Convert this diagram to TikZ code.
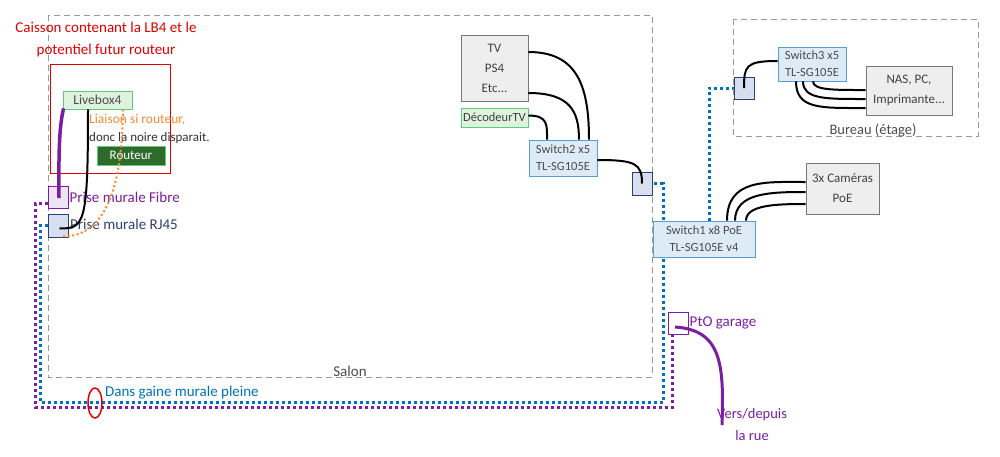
\documentclass[tikz,border=0pt]{standalone}
\usepackage{fontspec}
\setmainfont{Carlito}
\usetikzlibrary{calc,positioning,shapes.geometric,backgrounds}

\definecolor{lbfill}{HTML}{DDEBF7}
\definecolor{lbdraw}{HTML}{5B9BD5}
\definecolor{navy}{HTML}{2F3F6F}
\definecolor{wallfill}{HTML}{D6DEF0}
\definecolor{violet}{HTML}{7A1FA2}
\definecolor{bleu}{HTML}{0070C0}
\definecolor{vertclair}{HTML}{DDF3DD}
\definecolor{vertbord}{HTML}{5DCB7E}
\definecolor{vertfonce}{HTML}{2E6A2A}
\definecolor{grisfill}{HTML}{EEEEEE}
\definecolor{grisbord}{HTML}{777777}
\definecolor{orangeliaison}{HTML}{F58A32}
\definecolor{rouge}{HTML}{E00000}

\begin{document}
\begin{tikzpicture}[x=1pt,y=-1pt,
  box/.style={draw,line width=0.8pt,inner sep=0pt,align=center,font=\fontsize{12.5}{17}\selectfont},
  switchbox/.style={box,fill=lbfill,draw=lbdraw,text=black!70},
  devbox/.style={box,fill=grisfill,draw=grisbord,text=black!75,font=\fontsize{13}{20}\selectfont},
  wallbox/.style={draw=navy,fill=wallfill,line width=1pt,minimum width=20pt,minimum height=22pt,inner sep=0pt},
  zone/.style={draw=black!40,dashed,line width=1pt,dash pattern=on 6pt off 4pt},
  cable/.style={line width=2pt,black},
  gaine/.style={line width=3pt,dash pattern=on 3pt off 3pt},
  lbl/.style={font=\fontsize{15}{22}\selectfont,inner sep=1pt}]
\useasboundingbox (0,0) rectangle (1000,456);

% zones
\draw[zone] (48,15) rectangle (652,377);
\node[lbl,text=black!70,anchor=south] (salon) at (350,378) {Salon};
\draw[zone] (733,19) rectangle (978,136);
\node[lbl,text=black!70,anchor=south,font=\fontsize{14.5}{20}\selectfont] (bureau) at (873,138) {Bureau (étage)};

% caisson
\node[draw=rouge,line width=1pt,minimum width=120pt,minimum height=109pt] (caisson) at (110,118.5) {};
\node[lbl,text=rouge,align=center] (caissonlbl) at (106,39) {Caisson contenant la LB4 et le\\potentiel futur routeur};
\node[box,fill=vertclair,draw=vertbord,text=black!70,minimum width=69pt,minimum height=18pt,font=\fontsize{13.5}{15}\selectfont] (livebox) at (97.5,100) {Livebox4};
\node[box,fill=vertfonce,draw=vertbord,text=white,minimum width=68pt,minimum height=19pt,font=\fontsize{13}{15}\selectfont] (routeur) at (131,155.5) {Routeur};
\node[anchor=west,align=left,text=black!80,inner sep=0pt,font=\fontsize{13.5}{18}\selectfont] (liaison) at (89,129) {\textcolor{orangeliaison}{Liaison si routeur,}\\\fontsize{13}{18}\selectfont donc la noire disparait.};

% prises murales
\node[draw=violet,fill=violet!12,line width=1pt,minimum width=20pt,minimum height=22pt,inner sep=0pt] (fibre) at (58,197) {};
\node[lbl,text=violet,anchor=west] (fibrelbl) at (fibre.east) {Prise murale Fibre};
\node[wallbox,minimum height=23pt] (rj45) at (58.5,225.5) {};
\node[lbl,text=navy,anchor=west] (rj45lbl) at ($(rj45.east)+(0,-1)$) {Prise murale RJ45};

% salon
\node[devbox,minimum width=67pt,minimum height=66pt] (tv) at (494.5,68) {TV\\PS4\\Etc...};
\node[box,fill=vertclair,draw=vertbord,text=black!75,minimum width=67pt,minimum height=19pt] (decodeur) at (494.5,117.5) {DécodeurTV};
\node[switchbox,minimum width=68pt,minimum height=36pt] (switch2) at (563,158) {Switch2 x5\\TL-SG105E};
\node[wallbox,minimum height=23pt] (mur2) at (642,183.5) {};

% garage
\node[switchbox,minimum width=102pt,minimum height=36pt] (switch1) at (704,239) {Switch1 x8 PoE\\TL-SG105E v4};
\node[devbox,minimum width=73pt,minimum height=51pt] (cameras) at (842.5,188.5) {3x Caméras\\PoE};
\node[draw=violet,fill=white,line width=1pt,minimum width=20pt,minimum height=22pt,inner sep=0pt] (pto) at (678,323) {};
\node[lbl,text=violet,anchor=west] (ptolbl) at (pto.east) {PtO garage};
\coordinate (rue) at (722,425);
\node[lbl,text=violet,align=center,font=\fontsize{14.5}{22}\selectfont] (ruelbl) at (752,425) {Vers/depuis\\la rue};

% bureau
\node[wallbox] (mur3) at (744,88) {};
\node[switchbox,minimum width=68pt,minimum height=34pt] (switch3) at (812,64) {Switch3 x5\\TL-SG105E};
\node[devbox,minimum width=86pt,minimum height=49pt] (nas) at (909,90.5) {NAS, PC,\\Imprimante...};

% gaines
\coordinate (fbas) at (35,407);
\coordinate (bbas) at (40,402);
\coordinate (bhaut) at (663,183.5);
\begin{scope}[on background layer]
\draw[gaine,violet] ($(fibre.west)+(0,6)$) -| (fbas) -| ($(pto.south)+(-6,0)$);
\draw[gaine,bleu] (rj45.west) -| (bbas) -| (bhaut) -- (mur2.east);
\draw[gaine,bleu] ($(switch1.north)+(5,0)$) |- (mur3.west);
\end{scope}
\node[draw=rouge,line width=1.5pt,ellipse,minimum width=14pt,minimum height=30pt,inner sep=0pt] (gaine) at (95,403) {};
\node[lbl,text=bleu,anchor=west] (gainelbl) at (104,393) {Dans gaine murale pleine};

% cables
\draw[violet,line width=3.5pt] ($(livebox.south west)+(1,-1)$) .. controls (58,130) and (59,170) .. ($(fibre.center)+(1,1)$);
\draw[cable] ($(livebox.south)+(-9.5,0)$) .. controls +(0,115) and +(25,0) .. ($(rj45.center)+(1,3)$);
\draw[orangeliaison,line width=2pt,dash pattern=on 2pt off 2.5pt] ($(livebox.south)+(25.5,0)$) .. controls (122,200) and (100,236) .. ($(rj45.south)+(4.5,-1)$);
\draw[cable] ($(tv.east)+(0,-16)$) .. controls +(48,0) and +(0,-55) .. ($(switch2.north)+(26,0)$);
\draw[cable] ($(tv.east)+(0,25)$) .. controls +(42,0) and +(0,-28) .. ($(switch2.north)+(16,0)$);
\draw[cable] ($(decodeur.east)+(0,-2)$) .. controls +(20,0) and +(0,-14) .. ($(switch2.north)+(-16,0)$);
\draw[cable] ($(switch2.east)+(0,2)$) .. controls +(38,0) and +(0,-20) .. (mur2.center);
\draw[cable] ($(switch3.west)+(0,-3)$) .. controls +(-32,0) and +(0,-22) .. (mur3.center);
\draw[cable] ($(switch3.south)+(-16,0)$) .. controls +(0,28) and +(-45,0) .. ($(nas.west)+(0,17.5)$);
\draw[cable] ($(switch3.south)+(-9,0)$) .. controls +(0,18) and +(-40,0) .. ($(nas.west)+(0,8.5)$);
\draw[cable] ($(switch3.south)+(1,0)$) .. controls +(0,9) and +(-30,0) .. ($(nas.west)+(0,-0.5)$);
\draw[cable] ($(switch1.north)+(23,0)$) .. controls +(0,-42) and +(-40,0) .. ($(cameras.west)+(0,-6.5)$);
\draw[cable] ($(switch1.north)+(31,0)$) .. controls +(0,-28) and +(-35,0) .. ($(cameras.west)+(0,3.5)$);
\draw[cable] ($(switch1.north)+(42,0)$) .. controls +(0,-16) and +(-28,0) .. ($(cameras.west)+(0,15.5)$);
\draw[violet,line width=3pt] ($(pto.center)+(-3,4)$) .. controls (722,330) and (724,365) .. (rue);
\end{tikzpicture}
\end{document}
